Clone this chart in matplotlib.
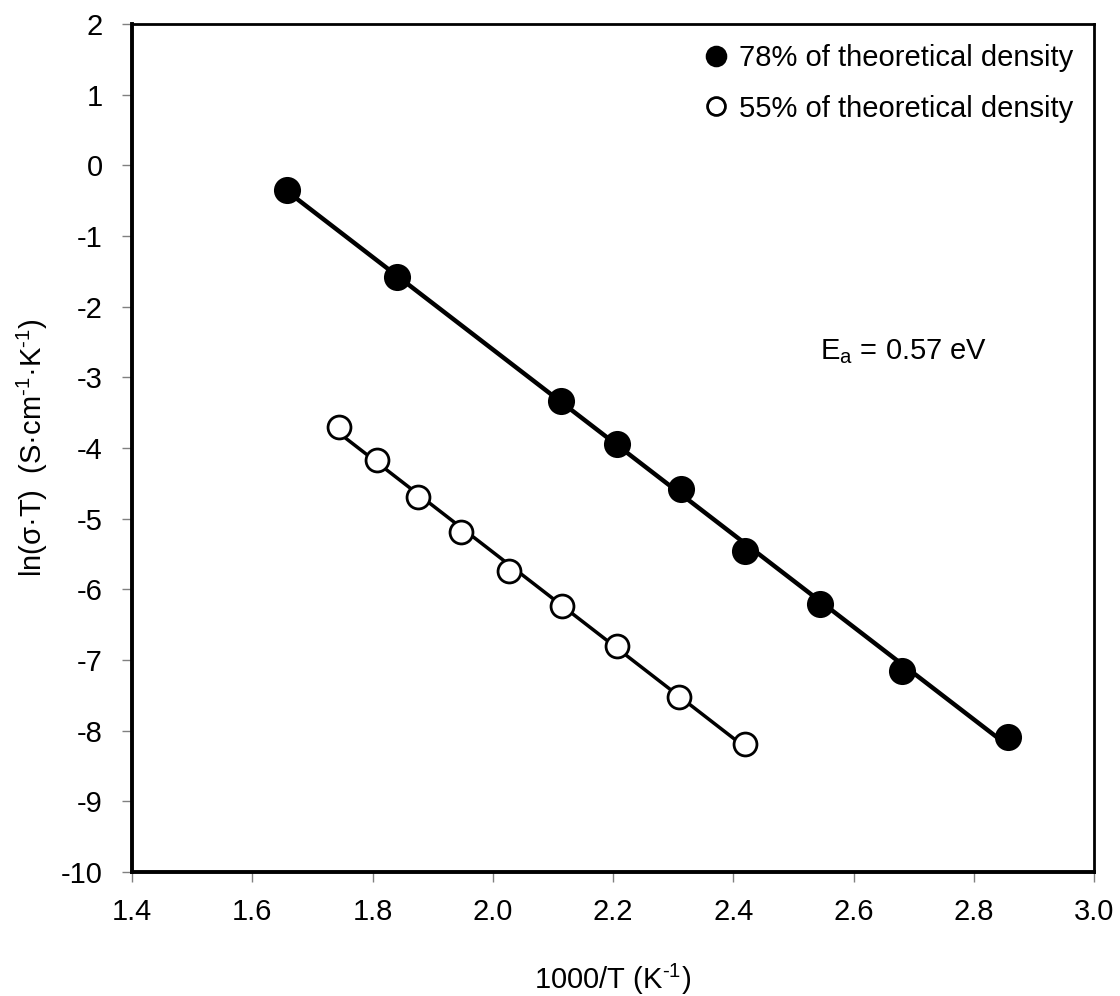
import matplotlib
matplotlib.use("Agg")
import matplotlib.pyplot as plt
import numpy as np

plt.rcParams['font.family'] = ['Liberation Sans', 'DejaVu Sans']
plt.rcParams['mathtext.fontset'] = 'custom'
plt.rcParams['mathtext.rm'] = 'Liberation Sans'
plt.rcParams['mathtext.it'] = 'Liberation Sans:italic'

# 78% of theoretical density
x_dense = [1.658, 1.841, 2.114, 2.207, 2.313, 2.420, 2.545, 2.681, 2.857]
y_dense = [-0.35, -1.58, -3.33, -3.94, -4.58, -5.46, -6.21, -7.16, -8.09]

# 55% of theoretical density
x_porous = [1.744, 1.808, 1.876, 1.947, 2.027, 2.115, 2.207, 2.310, 2.420]
y_porous = [-3.70, -4.17, -4.69, -5.19, -5.74, -6.24, -6.80, -7.52, -8.19]

labels = ['78% of theoretical density', '55% of theoretical density']
xticks = np.arange(1.4, 3.01, 0.2)
yticks = np.arange(-10, 2.1, 1)

fig = plt.figure(figsize=(11.2, 9.96), dpi=100)
ax = fig.add_axes([0.1179, 0.1245, 0.8589, 0.8514])

# linear fits drawn between first and last point of each series
for xs, ys, lw in [(x_dense, y_dense, 3.2), (x_porous, y_porous, 2.5)]:
    p = np.polyfit(xs, ys, 1)
    xx = np.array([min(xs), max(xs)])
    ax.plot(xx, np.polyval(p, xx), color='black', lw=lw, zorder=2)

ax.plot(x_dense, y_dense, 'o', ms=18, mfc='black', mec='black', mew=1.5,
        ls='none', label=labels[0], zorder=3)
ax.plot(x_porous, y_porous, 'o', ms=16.5, mfc='white', mec='black', mew=2,
        ls='none', label=labels[1], zorder=3)

ax.set_xlim(1.4, 3.0)
ax.set_ylim(-10, 2)
ax.set_xticks(xticks)
ax.set_yticks(yticks)
ax.set_xticklabels(['%.1f' % v for v in xticks])
ax.set_yticklabels(['%d' % v for v in yticks])
ax.tick_params(direction='out', length=7.2, width=1, color='#808080',
               labelsize=21)
ax.tick_params(axis='x', pad=11.5)
ax.tick_params(axis='y', pad=14)

for side in ['top', 'right']:
    ax.spines[side].set_linewidth(2)
for side in ['left', 'bottom']:
    ax.spines[side].set_linewidth(2.8)

ax.set_xlabel(r'1000/T (K$^{\text{-1}}$)', fontsize=21, labelpad=26)
ax.set_ylabel(r'ln($\mathregular{\sigma}$·T)  (S·cm$^{\text{-1}}$·K$^{\text{-1}}$)',
              fontsize=21, labelpad=8)

ax.text(2.545, -2.64, r'E$_{\text{a}}$ = 0.57 eV', fontsize=21,
        ha='left', va='center')

leg = ax.legend(loc='upper right', frameon=False, fontsize=21, markerscale=0.78,
                handlelength=0.8, handletextpad=0.39, labelspacing=0.76,
                borderpad=0.4, borderaxespad=0.3)

fig.savefig('out.png', dpi=100)
